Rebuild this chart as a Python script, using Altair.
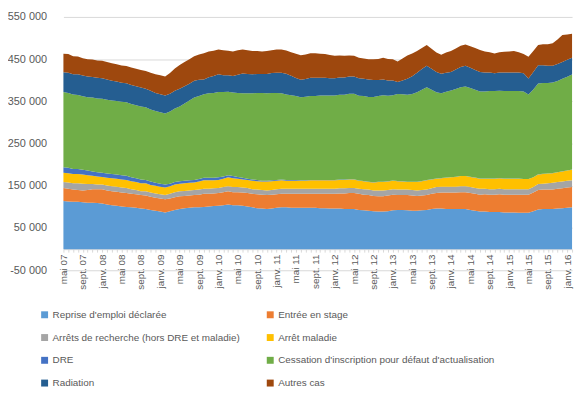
import json
import altair as alt
import pandas as pd

tick_labels = ["mai 07", "sept. 07", "janv. 08", "mai 08", "sept. 08", "janv. 09",
               "mai 09", "sept. 09", "janv. 10", "mai 10", "sept. 10", "janv. 11",
               "mai 11", "sept. 11", "janv. 12", "mai 12", "sept. 12", "janv. 13",
               "mai 13", "sept. 13", "janv. 14", "mai 14", "sept. 14", "janv. 15",
               "mai 15", "sept. 15", "janv. 16"]

series_names = ["Reprise d'emploi déclarée", "Entrée en stage",
                "Arrêts de recherche (hors DRE et maladie)", "Arrêt maladie",
                "DRE", "Cessation d'inscription pour défaut d'actualisation",
                "Radiation", "Autres cas"]
colors = ["#5B9BD5", "#ED7D31", "#A5A5A5", "#FFC000",
          "#4472C4", "#70AD47", "#255E91", "#9E480E"]

# values in thousands, monthly from May 2007 to Feb 2016
reprise = [114,113,112,112,111, 110,110,109,108, 106,104,103,101,100, 99,98,96,
           95,93,91,89,87, 90,93,95, 97,98,99,99,100, 101,102,103,104,106,104,
           104,103,101,99,97,96, 95,96,98,99,99, 98,98,98,98,98,98,
           97,97,96,96,96,95,95,95, 93,92,91,90,89,89, 90,92,93,93,92,
           91,91,92,93, 95,96,96,95,95, 95,95,95,93,91,89,
           89,88,88,88,87,87,87,86,86,86, 90,94,95,95,95,96,97,98,99]
stage = [31,30,29,28,28, 30,32,33,34, 33,33,33,33,33, 32,32,32,
         32,31,31,31,31, 30,30,30, 29,29,29,30,31, 30,30,30,31,31,31,
         31,31,32,32,33,33, 33,33,32,32,32, 33,33,33,33,33,33,
         34,34,35,35,36,37,38,38, 38,37,37,36,36,36, 37,37,35,35,36,
         36,35,35,35, 36,37,38,39,39, 39,40,40,40,40,40,
         41,41,41,42,42,42,42,43,43,43, 44,46,46,46,46,47,47,48,48]
arrets = [14,15,15,16,16, 14,12,11,11, 12,12,12,12,12, 11,10,9,
          10,10,10,10,10, 11,12,12, 12,12,12,12,12, 12,12,12,12,12,12,
          12,12,12,11,11,11, 11,11,12,12,12, 12,12,12,12,12,12,
          12,12,12,12,12,12,12,12, 12,13,13,13,14,14, 13,13,13,13,13,
          13,13,13,13, 13,14,14,14,14, 14,14,14,14,14,14,
          13,13,13,13,13,13,13,13,13,13, 13,14,14,15,16,16,16,16,16]
maladie = [22,22,22,22,22, 21,20,19,18, 18,19,19,19,19, 19,19,19,
           19,18,18,18,18, 18,18,18, 18,18,18,19,20, 20,19,19,20,21,21,
           20,19,19,20,20,20, 21,21,20,20,19, 19,19,19,19,20,20,
           20,20,20,20,20,20,20,20, 19,19,18,19,20,20, 20,20,20,19,18,
           19,20,21,22, 21,20,20,21,22, 23,24,24,24,24,24,
           24,25,25,25,25,25,25,25,24,24, 23,23,23,23,23,23,24,24,25]
dre = [13,13,12,12,11, 11,10,10,10, 10,10,10,10,10, 9,9,9,
       8,8,7,7,7, 6,6,6, 6,6,6,6,6, 6,6,6,5,5,5,
       4,4,3,3,3,2, 2,2,2,2,1.5, 1.5,1.5,1,1,1,1,
       1,1,1,1,0.8,0.8,0.8,0.8, 0.6,0.6,0.6,0.6,0.6,0.6, 0.6,0.6,0.6,0.6,0.6,
       0.5,0.5,0.5,0.5, 0.5,0.5,0.5,0.5,0.5, 0.5,0.5,0.5,0.5,0.5,0.5,
       0.4,0.4,0.4,0.4,0.4,0.4,0.4,0.4,0.4,0.4, 0.4,0.4,0.4,0.4,0.4,0.4,0.4,0.4,0.4]
cessation = [178,177,176,175,174, 174,175,175,175, 175,174,174,174,174, 174,173,173,
             172,171,170,169,168, 171,174,177, 183,189,195,197,198, 200,201,202,200,198,198,
             199,200,202,204,206,208, 207,207,206,204,203, 201,199,197,198,199,199,
             200,200,200,200,201,201,202,202, 201,201,201,202,203,205, 203,202,206,206,206,
             208,212,216,220, 212,204,201,203,205, 208,210,212,210,208,206,
             206,207,207,207,207,207,207,207,207,200, 208,215,215,214,214,216,219,222,225]
radiation = [47,48,48,49,49, 49,49,49,49, 48,47,46,45,45, 45,45,45,
             44,44,43,43,43, 42,42,42, 41,40,40,38,35, 38,40,42,40,39,39,
             43,47,46,45,45,45, 46,47,48,49,49, 46,43,41,42,43,43,
             42,42,41,41,41,41,41,41, 41,41,41,40,38,37, 36,35,28,33,38,
             42,46,49,51, 50,48,46,45,44, 46,48,49,48,47,46,
             45,44,42,43,44,44,44,44,43,38, 41,43,42,41,40,40,40,40,40]
autres = [44,44,43,42,41, 41,41,41,41, 41,41,41,41,41, 41,41,41,
          42,43,44,45,45, 49,53,56, 57,58,58,60,62, 61,60,59,59,58,58,
          58,57,56,55,54,53, 54,54,55,55,55, 56,57,58,58,58,58,
          57,56,55,53,52,51,50,49, 49,48,48,49,50,52, 51,50,49,52,55,
          54,52,50,49, 47,46,45,48,50, 50,50,50,51,52,52,
          50,48,47,48,49,50,51,48,46,51, 50,48,50,51,53,58,64,60,57]

all_series = [reprise, stage, arrets, maladie, dre, cessation, radiation, autres]
n = len(reprise)
for s in all_series:
    assert len(s) == n, len(s)

rows = []
for k, (name, vals) in enumerate(zip(series_names, all_series)):
    for i, v in enumerate(vals):
        rows.append({"m": i, "v": v * 1000, "s": name, "k": k})
df = pd.DataFrame(rows)

FONT = "Liberation Sans"
GREY = "#595959"

x_expr = "datum.value % 4 == 0 ? " + json.dumps(tick_labels) + "[datum.value / 4] : ''"
y_expr = "(datum.value < 0 ? '-' : '') + replace(format(abs(datum.value), ','), ',', ' ')"

chart = alt.Chart(df).mark_area(opacity=1, interpolate="linear").encode(
    x=alt.X("m:Q",
            scale=alt.Scale(domain=[0, n - 1], nice=False, zero=False),
            axis=alt.Axis(values=list(range(n)), labelExpr=x_expr, labelAngle=270,
                          grid=False, domain=True, domainColor="#d9d9d9",
                          ticks=True, tickColor="#d9d9d9", tickSize=3,
                          labelPadding=2, offset=-21.33, labelFont=FONT,
                          labelFontSize=10, labelColor=GREY, labelOverlap=False,
                          labelFlush=False, title=None)),
    y=alt.Y("v:Q", stack="zero",
            scale=alt.Scale(domain=[-50000, 550000], nice=False, zero=False),
            axis=alt.Axis(values=[-50000, 50000, 150000, 250000, 350000, 450000, 550000],
                          labelExpr=y_expr, grid=True, gridColor="#d9d9d9",
                          domain=False, ticks=False, labelPadding=17,
                          labelFont=FONT, labelFontSize=11, labelColor=GREY,
                          labelFlush=False, title=None)),
    color=alt.Color("s:N", sort=series_names,
                    scale=alt.Scale(domain=series_names, range=colors),
                    legend=alt.Legend(orient="none", legendX=-24, legendY=296,
                                      direction="horizontal",
                                      columns=2, title=None, symbolType="square",
                                      symbolSize=49, symbolStrokeWidth=0,
                                      labelFont=FONT, labelFontSize=10,
                                      labelColor=GREY, labelOffset=3, labelLimit=0,
                                      rowPadding=13, columnPadding=25, padding=0)),
    order=alt.Order("k:Q", sort="ascending"),
).properties(
    width=514, height=256,
    autosize=alt.AutoSizeParams(type="none"),
    padding={"left": 56, "top": 7, "right": 5, "bottom": 120},
).configure_view(stroke=None)

chart.save("out.html", embed_options={"renderer": "svg", "actions": False})
